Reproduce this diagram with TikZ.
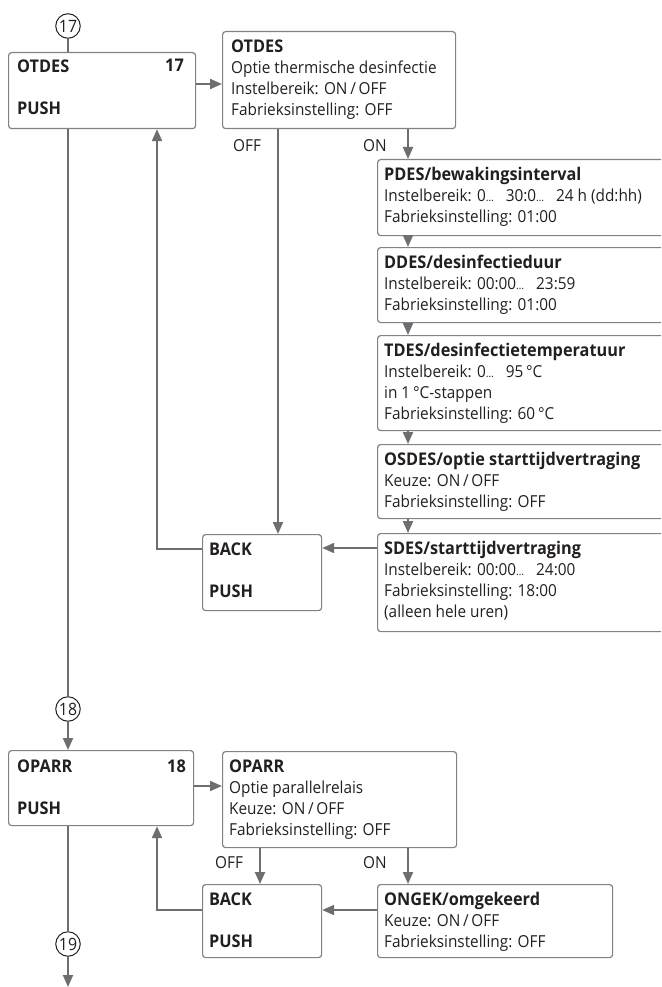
\documentclass[tikz,border=0pt]{standalone}
\usepackage{fontspec}
\setmainfont{Open Sans}[FakeStretch=0.93]
\usetikzlibrary{arrows.meta,calc}
\definecolor{ln}{HTML}{6D6E71}
\definecolor{bx}{HTML}{808285}
\definecolor{tx}{HTML}{231F20}
\newcommand{\ttl}[1]{{\fontsize{17.5}{21}\selectfont\bfseries #1}}
\newcommand{\dd}{{\fontsize{11}{21}\selectfont…}}
\tikzset{
 box/.style={draw=bx, line width=1.2pt, rounded corners=3pt, anchor=north west, inner sep=0pt, rectangle},
 conn/.style={draw=ln, line width=2pt},
 arr/.style={conn, -{Triangle[length=12pt,width=10pt]}},
 num/.style={circle, draw=tx, line width=1pt, minimum size=24.5pt, inner sep=0pt, text=tx, font=\fontsize{17}{16}\selectfont},
 txt/.style={anchor=north west, inner sep=0pt, text=tx, font=\fontsize{16.5}{21}\selectfont},
 lab/.style={anchor=base west, inner sep=0pt, text=tx, font=\fontsize{16.5}{21}\selectfont},
 nr/.style={anchor=base east, inner sep=0pt, text=tx, font=\fontsize{17.5}{21}\selectfont\bfseries},
}
\begin{document}
\begin{tikzpicture}[x=1pt,y=-1pt]
\clip (0,0) rectangle (661,987);
% ---- top section boxes
\node[box, minimum width=187pt, minimum height=76pt] (otdes) at (8,52) {};
\node[txt] (totdes) at (17,57.3) {\begin{tabular}{@{}l@{}}\ttl{OTDES}\\ \\ \ttl{PUSH}\end{tabular}};
\node[nr] (n17) at (184,72) {17};
\node[box, minimum width=233pt, minimum height=97pt] (otdesopt) at (222,31) {};
\node[txt] (totdesopt) at (231,37.3) {\begin{tabular}{@{}l@{}}\ttl{OTDES}\\ Optie thermische desinfectie\\ Instelbereik: ON\,/\,OFF\\ Fabrieksinstelling: OFF\end{tabular}};
\node[lab] (off1) at (233,152) {OFF};
\node[lab] (on1) at (363,152) {ON};
\node[box, minimum width=320pt, minimum height=76pt] (pdes) at (377,159) {};
\node[txt] (tpdes) at (384,165.3) {\begin{tabular}{@{}l@{}}\ttl{PDES/bewakingsinterval}\\ Instelbereik: 0\dd\ \ \ 30:0\dd\ \ \ 24 h (dd:hh)\\ Fabrieksinstelling: 01:00\end{tabular}};
\node[box, minimum width=320pt, minimum height=75pt] (ddes) at (377,247) {};
\node[txt] (tddes) at (384,253.3) {\begin{tabular}{@{}l@{}}\ttl{DDES/desinfectieduur}\\ Instelbereik: 00:00\dd\ \ \ 23:59\\ Fabrieksinstelling: 01:00\end{tabular}};
\node[box, minimum width=320pt, minimum height=95pt] (tdes) at (377,335) {};
\node[txt] (ttdes) at (384,341.3) {\begin{tabular}{@{}l@{}}\ttl{TDES/desinfectietemperatuur}\\ Instelbereik: 0\dd\ \ \ 95\,°C\\ in 1\,°C-stappen\\ Fabrieksinstelling: 60\,°C\end{tabular}};
\node[box, minimum width=320pt, minimum height=74pt] (osdes) at (377,444) {};
\node[txt] (tosdes) at (384,450.3) {\begin{tabular}{@{}l@{}}\ttl{OSDES/optie starttijdvertraging}\\ Keuze: ON\,/\,OFF\\ Fabrieksinstelling: OFF\end{tabular}};
\node[box, minimum width=320pt, minimum height=98pt] (sdes) at (377,533) {};
\node[txt] (tsdes) at (384,539.3) {\begin{tabular}{@{}l@{}}\ttl{SDES/starttijdvertraging}\\ Instelbereik: 00:00\dd\ \ \ 24:00\\ Fabrieksinstelling: 18:00\\ (alleen hele uren)\end{tabular}};
\node[box, minimum width=119pt, minimum height=76pt] (back1) at (202,534) {};
\node[txt] (tback1) at (209,540.3) {\begin{tabular}{@{}l@{}}\ttl{BACK}\\ \\ \ttl{PUSH}\end{tabular}};
% ---- circles
\node[num] (c17) at (68,26) {17};
\node[num] (c18) at (68,709) {18};
\node[num] (c19) at (68,944) {19};
% ---- bottom section boxes
\node[box, minimum width=185pt, minimum height=75pt] (oparr) at (8,750) {};
\node[txt] (toparr) at (17,757.3) {\begin{tabular}{@{}l@{}}\ttl{OPARR}\\ \\ \ttl{PUSH}\end{tabular}};
\node[nr] (n18) at (186,772) {18};
\node[box, minimum width=234pt, minimum height=96pt] (oparropt) at (222,751) {};
\node[txt] (toparropt) at (229,757.3) {\begin{tabular}{@{}l@{}}\ttl{OPARR}\\ Optie parallelrelais\\ Keuze: ON\,/\,OFF\\ Fabrieksinstelling: OFF\end{tabular}};
\node[lab] (off2) at (215,868) {OFF};
\node[lab] (on2) at (363,868) {ON};
\node[box, minimum width=119pt, minimum height=73pt] (back2) at (202,884) {};
\node[txt] (tback2) at (209,890.3) {\begin{tabular}{@{}l@{}}\ttl{BACK}\\ \\ \ttl{PUSH}\end{tabular}};
\node[box, minimum width=235pt, minimum height=73pt] (ongek) at (377,884) {};
\node[txt] (tongek) at (384,890.3) {\begin{tabular}{@{}l@{}}\ttl{ONGEK/omgekeerd}\\ Keuze: ON\,/\,OFF\\ Fabrieksinstelling: OFF\end{tabular}};
% ---- connectors top
\draw[conn] (c17.south) -- (c17.south |- otdes.north);
\draw[arr] (otdes.east |- 0,84) -- (otdesopt.west |- 0,84);
\draw[arr] (otdesopt.south -| 278,0) -- (back1.north -| 278,0);
\draw[arr] (otdesopt.south -| 408,0) -- (pdes.north -| 408,0);
\draw[arr] (pdes.south -| 408,0) -- (ddes.north -| 408,0);
\draw[arr] (ddes.south -| 408,0) -- (tdes.north -| 408,0);
\draw[arr] (tdes.south -| 408,0) -- (osdes.north -| 408,0);
\draw[arr] (osdes.south -| 408,0) -- (sdes.north -| 408,0);
\draw[arr] (sdes.west |- 0,548) -- (back1.east |- 0,548);
\draw[arr] (back1.west |- 0,549) -| (otdes.south -| 157,0);
\draw[conn] (otdes.south -| c17.south) -- (c18.north);
\draw[arr] (c18.south) -- (c18.south |- oparr.north);
% ---- connectors bottom
\draw[arr] (oparr.east |- 0,786) -- (oparropt.west |- 0,786);
\draw[arr] (oparropt.south -| 260,0) -- (back2.north -| 260,0);
\draw[arr] (oparropt.south -| 408,0) -- (ongek.north -| 408,0);
\draw[arr] (ongek.west |- 0,910) -- (back2.east |- 0,910);
\draw[arr] (back2.west |- 0,910) -| (oparr.south -| 157,0);
\draw[conn] (oparr.south -| c19.north) -- (c19.north);
\coordinate (end) at (68,987);
\draw[arr] (c19.south) -- (end);
\end{tikzpicture}
\end{document}
